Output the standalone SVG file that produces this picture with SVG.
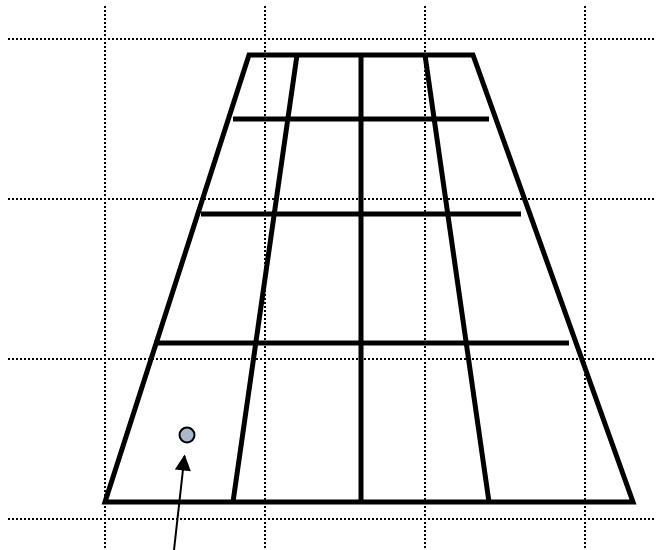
<svg xmlns="http://www.w3.org/2000/svg" width="658" height="550" viewBox="0 0 658 550">
<style>
.grid{stroke:#000;stroke-width:2;stroke-dasharray:2 2;fill:none}
.thick{stroke:#000;stroke-width:5;fill:none;stroke-linecap:butt}
</style>
<defs>
<marker id="ah" viewBox="0 0 10 10" refX="9" refY="5" markerWidth="8.5" markerHeight="8" orient="auto" markerUnits="strokeWidth">
<path d="M0,0 L10,5 L0,10 z" fill="#000"/>
</marker>
</defs>
<rect width="658" height="550" fill="#fff"/>
<g id="grid">
<line class="grid" x1="8" y1="39" x2="654" y2="39"/>
<line class="grid" x1="8" y1="199" x2="654" y2="199"/>
<line class="grid" x1="8" y1="359" x2="654" y2="359"/>
<line class="grid" x1="8" y1="519" x2="654" y2="519"/>
<line class="grid" x1="105" y1="6" x2="105" y2="550"/>
<line class="grid" x1="265" y1="6" x2="265" y2="550"/>
<line class="grid" x1="425" y1="6" x2="425" y2="550"/>
<line class="grid" x1="585" y1="6" x2="585" y2="550"/>
</g>
<g id="trapezoid">
<path class="thick" d="M105,502 L249,55 L473,55 L633,502 Z" stroke-linejoin="miter"/>
<line class="thick" x1="297" y1="55" x2="233" y2="502"/>
<line class="thick" x1="361" y1="55" x2="361" y2="502"/>
<line class="thick" x1="425" y1="55" x2="489" y2="502"/>
<line class="thick" x1="233" y1="119" x2="489" y2="119"/>
<line class="thick" x1="201" y1="214" x2="521" y2="214"/>
<line class="thick" x1="154" y1="343" x2="569" y2="343"/>
</g>
<g id="point">
<circle cx="187" cy="435" r="7.5" fill="#a9b9cb" stroke="#000" stroke-width="2"/>
</g>
<g id="connectors">
<line x1="174" y1="550" x2="184.5" y2="456" stroke="#000" stroke-width="2" marker-end="url(#ah)"/>
</g>
</svg>
